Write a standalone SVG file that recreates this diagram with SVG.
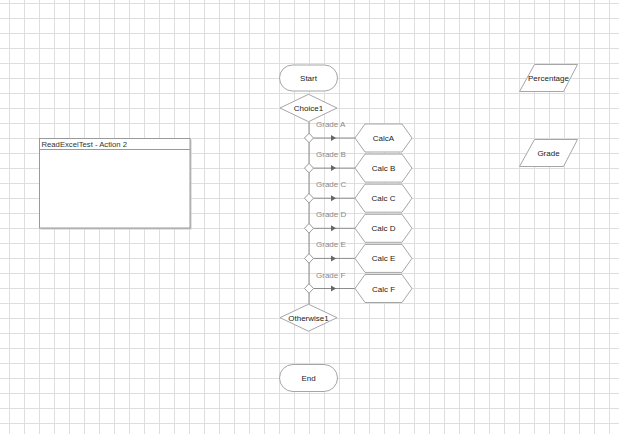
<svg xmlns="http://www.w3.org/2000/svg" width="619" height="434" viewBox="0 0 619 434">
<style>
text{font-family:"Liberation Sans",Arial,sans-serif;font-size:8px;fill:#222;text-anchor:middle}
.lbl{fill:#8a8a8a;text-anchor:start}
.shape{fill:#fff;stroke:#a6a6a6;stroke-width:1}
.conn{fill:none;stroke:#8c8c8c;stroke-width:1}
.sd{fill:#fff;stroke:#9a9a9a;stroke-width:1}
.arr{fill:#666}
</style>
<defs>
<pattern id="grid" x="9" y="3" width="15" height="15" patternUnits="userSpaceOnUse">
<path d="M0.5 0V15M0 0.5H15" fill="none" stroke="#dedede" stroke-width="1"/>
</pattern>
<polygon id="ah" points="0,-3 5,0 0,3"/>
<polygon id="hex" points="-28.5,0 -18.5,-14 18.5,-14 28.5,0 18.5,14 -18.5,14"/>
<polygon id="sdm" points="-4.5,0 0,-4.8 4.5,0 0,4.8"/>
</defs>
<rect width="619" height="434" fill="#fff"/>
<rect width="619" height="434" fill="url(#grid)"/>

<g id="connectors">
<path class="conn" d="M309 121.7V304.2"/>
<path class="conn" d="M313.5 138H355M313.5 168.1H355M313.5 198.2H355M313.5 228.3H355M313.5 258.4H355M313.5 288.5H355"/>
<g class="arr">
<use href="#ah" x="331" y="138"/>
<use href="#ah" x="331" y="168.1"/>
<use href="#ah" x="331" y="198.2"/>
<use href="#ah" x="331" y="228.3"/>
<use href="#ah" x="331" y="258.4"/>
<use href="#ah" x="331" y="288.5"/>
</g>
<g class="sd">
<use href="#sdm" x="309" y="138"/>
<use href="#sdm" x="309" y="168.1"/>
<use href="#sdm" x="309" y="198.2"/>
<use href="#sdm" x="309" y="228.3"/>
<use href="#sdm" x="309" y="258.4"/>
<use href="#sdm" x="309" y="288.5"/>
</g>
<text class="lbl" x="316" y="127">Grade A</text>
<text class="lbl" x="316" y="157.1">Grade B</text>
<text class="lbl" x="316" y="187.2">Grade C</text>
<text class="lbl" x="316" y="217.3">Grade D</text>
<text class="lbl" x="316" y="247.4">Grade E</text>
<text class="lbl" x="316" y="277.5">Grade F</text>
</g>

<g id="start">
<rect class="shape" x="279.5" y="65" width="58" height="26" rx="13"/>
<text x="308.5" y="81">Start</text>
</g>
<g id="choice1">
<polygon class="shape" points="280,108 308.5,94.3 337,108 308.5,121.7"/>
<text x="308.5" y="111">Choice1</text>
</g>
<g id="calcA"><use class="shape" href="#hex" x="383.5" y="138"/><text x="383.5" y="141">CalcA</text></g>
<g id="calcB"><use class="shape" href="#hex" x="383.5" y="168.1"/><text x="383.5" y="171.1">Calc B</text></g>
<g id="calcC"><use class="shape" href="#hex" x="383.5" y="198.2"/><text x="383.5" y="201.2">Calc C</text></g>
<g id="calcD"><use class="shape" href="#hex" x="383.5" y="228.3"/><text x="383.5" y="231.3">Calc D</text></g>
<g id="calcE"><use class="shape" href="#hex" x="383.5" y="258.4"/><text x="383.5" y="261.4">Calc E</text></g>
<g id="calcF"><use class="shape" href="#hex" x="383.5" y="288.5"/><text x="383.5" y="291.5">Calc F</text></g>
<g id="otherwise1">
<polygon class="shape" points="280,317.7 308.5,304.2 337,317.7 308.5,331.2"/>
<text x="308.5" y="320.7">Otherwise1</text>
</g>
<g id="end">
<rect class="shape" x="279.5" y="364.5" width="58" height="27" rx="13.5"/>
<text x="308.5" y="381">End</text>
</g>
<g id="readExcel">
<rect x="40.5" y="139.5" width="151" height="90" fill="#c8c8c8"/>
<rect x="39.5" y="138.5" width="150.5" height="89.5" fill="#fff" stroke="#9a9a9a"/>
<path d="M39.5 149.5H190" stroke="#9a9a9a" fill="none"/>
<text x="41.5" y="147" style="text-anchor:start;font-size:7.7px;fill:#333">ReadExcelTest - Action 2</text>
</g>
<g id="percentage">
<polygon class="shape" points="534.5,64.5 577.5,64.5 563.5,91.5 519.5,91.5"/>
<text x="548.5" y="81">Percentage</text>
</g>
<g id="grade">
<polygon class="shape" points="534.5,139.5 577.5,139.5 563.5,166.5 519.5,166.5"/>
<text x="548.5" y="156">Grade</text>
</g>
</svg>
